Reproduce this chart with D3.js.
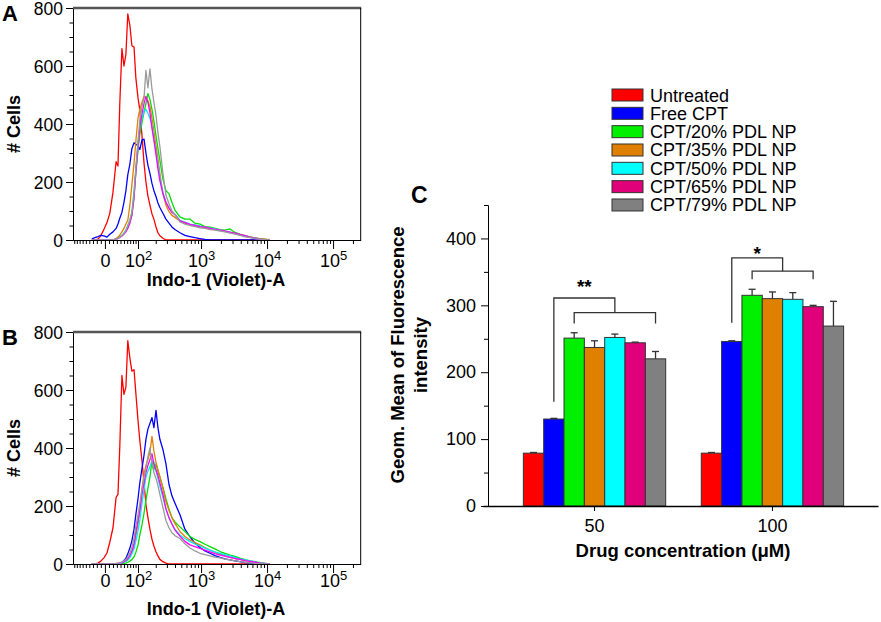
<!DOCTYPE html>
<html>
<head>
<meta charset="utf-8">
<script src="https://cdn.jsdelivr.net/npm/d3@7"></script>
<style>
  body { margin: 0; background: #fff; }
  svg { display: block; }
</style>
</head>
<body>
<div id="figure"></div>
<script>
const FONT = '"Liberation Sans", Arial, Helvetica, sans-serif';

// Treatments (legend order)
const groups = [
  "Untreated",
  "Free CPT",
  "CPT/20% PDL NP",
  "CPT/35% PDL NP",
  "CPT/50% PDL NP",
  "CPT/65% PDL NP",
  "CPT/79% PDL NP",
];
const barColors = ["#ff0000", "#0000ff", "#00f000", "#e08000", "#00ffff", "#e0007a", "#808080"];
const lineColors = ["#ff0000", "#0000ff", "#00e000", "#e08000", "#00e8ff", "#ff00ff", "#9a9a9a"];

// Histogram bin centres, Indo-1 (Violet)-A fluorescence
const histBins = [-33, -25, -17, -10, -2, 5, 12, 20, 28, 33, 38, 44, 50, 56, 62, 69, 76, 84, 91, 100,
  108, 118, 128, 138, 149, 161, 174, 187, 202, 217, 233, 260, 290, 323, 359, 399, 477, 568, 678, 807,
  963, 1146, 1365, 1625, 1935, 2304, 2743, 3266, 3888, 4630, 5513, 6563, 7815, 9305, 11080];

// Panel A: # cells per bin
const histA_untreated = [0, 0, 3, 15, 38, 60, 92, 165, 270, 255, 470, 660, 600, 640, 780, 740, 670, 665, 560, 490,
  448, 360, 265, 200, 152, 120, 90, 72, 45, 25, 15, 6, 0, 0, 0, 0, 0, 0, 0, 0,
  0, 0, 0, 0, 0, 0, 0, 0, 0, 0, 0, 0, 0, 0, 0];
const histA_freeCPT = [4, 8, 12, 16, 14, 10, 20, 28, 40, 55, 75, 95, 130, 170, 225, 262, 315, 335, 330, 325,
  312, 345, 348, 300, 258, 230, 195, 170, 150, 128, 112, 92, 72, 58, 45, 36, 25, 16, 12, 8,
  5, 2, 0, 0, 0, 0, 0, 0, 0, 0, 0, 0, 0, 0, 0];
const histA_np20 = [0, 0, 0, 0, 0, 0, 0, 0, 3, 6, 10, 15, 22, 32, 45, 62, 85, 150, 230, 310,
  365, 405, 440, 470, 505, 485, 450, 410, 360, 315, 275, 210, 170, 160, 130, 103, 80, 72, 72, 58,
  55, 46, 44, 40, 36, 34, 38, 26, 20, 15, 11, 7, 4, 2, 0];
const histA_np35 = [0, 0, 0, 0, 0, 0, 0, 0, 5, 10, 18, 28, 40, 55, 68, 120, 190, 265, 340, 420,
  450, 475, 495, 490, 480, 460, 420, 375, 325, 280, 230, 160, 120, 98, 85, 78, 66, 58, 52, 50,
  46, 42, 40, 37, 33, 30, 26, 22, 18, 14, 10, 7, 5, 3, 1];
const histA_np50 = [0, 0, 0, 0, 0, 0, 0, 0, 3, 6, 10, 16, 24, 35, 50, 70, 95, 170, 240, 335,
  385, 418, 445, 450, 438, 420, 395, 345, 305, 260, 215, 165, 130, 112, 95, 88, 68, 62, 55, 52,
  48, 44, 41, 38, 34, 31, 27, 23, 18, 13, 9, 6, 3, 1, 0];
const histA_np65 = [0, 0, 0, 0, 0, 0, 0, 0, 3, 5, 9, 14, 20, 28, 40, 58, 85, 145, 235, 320,
  390, 435, 470, 495, 475, 440, 385, 345, 295, 245, 205, 160, 130, 110, 95, 88, 66, 60, 54, 50,
  46, 44, 40, 37, 34, 31, 27, 24, 19, 15, 10, 6, 3, 1, 0];
const histA_np79 = [0, 0, 0, 0, 0, 0, 0, 0, 3, 6, 10, 15, 22, 32, 48, 68, 95, 160, 250, 340,
  414, 460, 490, 585, 525, 590, 520, 475, 430, 370, 322, 230, 155, 125, 100, 88, 62, 55, 50, 46,
  42, 40, 36, 34, 31, 28, 24, 20, 16, 11, 8, 5, 3, 1, 0];

// Panel B: # cells per bin
const histB_untreated = [0, 0, 3, 10, 22, 38, 75, 125, 230, 240, 405, 650, 585, 610, 770, 710, 665, 670, 590, 495,
  425, 355, 280, 205, 160, 120, 85, 62, 42, 28, 16, 8, 3, 0, 0, 0, 0, 0, 0, 0,
  0, 0, 0, 0, 0, 0, 0, 0, 0, 0, 0, 0, 0, 0, 0];
const histB_freeCPT = [0, 0, 0, 0, 0, 0, 0, 0, 0, 1, 3, 6, 12, 20, 35, 55, 80, 120, 170, 225,
  280, 330, 375, 430, 465, 485, 505, 470, 530, 470, 430, 395, 345, 275, 235, 210, 170, 120, 94, 72,
  57, 45, 37, 29, 23, 18, 14, 11, 8, 5, 3, 1, 0, 0, 0];
const histB_np20 = [0, 0, 0, 0, 0, 0, 0, 0, 0, 0, 0, 1, 2, 3, 6, 10, 15, 25, 40, 65,
  100, 135, 175, 220, 260, 300, 355, 325, 345, 320, 300, 265, 225, 190, 160, 145, 128, 112, 95, 85,
  77, 68, 60, 52, 43, 37, 31, 26, 20, 15, 11, 8, 5, 2, 0];
const histB_np35 = [0, 0, 0, 0, 0, 0, 0, 0, 0, 1, 2, 4, 7, 10, 14, 25, 40, 60, 95, 140,
  186, 260, 310, 340, 360, 385, 440, 390, 350, 325, 300, 260, 215, 185, 160, 140, 112, 95, 83, 74,
  66, 57, 48, 41, 34, 28, 23, 19, 16, 12, 9, 6, 4, 2, 0];
const histB_np50 = [0, 0, 0, 0, 0, 0, 0, 0, 0, 1, 2, 4, 6, 9, 14, 22, 35, 52, 80, 115,
  152, 210, 255, 300, 320, 335, 358, 350, 320, 295, 268, 230, 190, 160, 138, 120, 100, 88, 77, 69,
  62, 55, 48, 42, 37, 32, 28, 23, 18, 14, 11, 7, 4, 2, 0];
const histB_np65 = [0, 0, 0, 0, 0, 0, 0, 0, 1, 2, 3, 5, 8, 12, 19, 30, 45, 70, 110, 150,
  186, 240, 280, 315, 340, 360, 380, 345, 325, 305, 280, 240, 190, 160, 138, 118, 96, 78, 66, 60,
  54, 48, 42, 36, 31, 27, 23, 19, 16, 12, 9, 6, 3, 1, 0];
const histB_np79 = [0, 0, 0, 0, 0, 0, 0, 0, 2, 3, 4, 7, 11, 16, 24, 38, 58, 88, 130, 170,
  209, 260, 295, 330, 370, 400, 345, 315, 295, 270, 240, 195, 150, 125, 108, 98, 88, 70, 55, 45,
  37, 32, 28, 24, 21, 17, 14, 11, 8, 6, 4, 2, 1, 0, 0];

const histTicks = [0, 100, 1000, 10000, 100000];
const cellTicks = [0, 200, 400, 600, 800];

// Panel C: geometric mean fluorescence (mean and upper error)
const concentrations = ["50", "100"];
const mean50 = [79, 130, 251, 237, 252, 244, 220];
const err50 = [1, 1, 8, 10, 5, 1, 11];
const mean100 = [79, 246, 315, 310, 309, 298, 269];
const err100 = [1, 1, 9, 10, 10, 2, 37];
const meanTicks = [0, 100, 200, 300, 400];

// Significance brackets: Free CPT vs a range of NP groups
const sigLabels = ["**", "*"];
const sigFrom = [2, 2];
const sigTo = [6, 5];
const sigRefFoot = [156, 274];
const sigTop = [311, 371];
const sigLow = [289, 351];
const sigLowFoot = [273, 339];
const sigLabelAt = [333, 383];

const svg = d3
  .select("#figure")
  .append("svg")
  .attr("width", 881)
  .attr("height", 622)
  .attr("font-family", FONT);

svg.append("rect").attr("width", 881).attr("height", 622).attr("fill", "#fff");

// biexponential-like display transform of the cytometer axis
const biex = (v) => Math.asinh(v / 70);

function styleAxis(g, size) {
  g.attr("font-family", FONT).attr("font-size", size || 18);
  g.selectAll(".tick line").attr("stroke", "#000");
  g.selectAll(".domain").attr("stroke", "#000");
}

function drawHistogram(id, top, letter, series, labelPad, titleY) {
  const m = { left: 73, right: 360.7, top: top, bottom: top + 232 };
  const x = d3.scaleLinear().domain([biex(-95), biex(262144)]).range([m.left, m.right]);
  const y = d3.scaleLinear().domain([0, 800]).range([m.bottom, m.top]);
  const g = svg.append("g");

  g.append("clipPath")
    .attr("id", "clip-" + id)
    .append("rect")
    .attr("x", m.left)
    .attr("y", m.top - 2)
    .attr("width", m.right - m.left)
    .attr("height", m.bottom - m.top + 2);

  const line = d3
    .line()
    .x((d, i) => x(biex(histBins[i])))
    .y((d) => y(d));

  g.append("g")
    .attr("clip-path", `url(#clip-${id})`)
    .selectAll("path")
    .data(series)
    .join("path")
    .attr("d", line)
    .attr("fill", "none")
    .attr("stroke", (d, i) => lineColors[i])
    .attr("stroke-width", 1.3)
    .attr("stroke-linejoin", "round");

  // minor x ticks (decade subdivisions)
  const minor = d3.range(-90, 0, 10).concat(d3.range(10, 100, 10));
  [100, 1000, 10000].forEach((dec) => d3.range(2, 10).forEach((k) => minor.push(k * dec)));
  minor.push(200000);
  const xMinor = g.append("g")
    .attr("transform", `translate(0,${m.bottom})`)
    .call(d3.axisBottom(x).tickValues(minor.map(biex)).tickSize(4).tickSizeOuter(0).tickFormat(""));
  xMinor.select(".domain").remove();
  styleAxis(xMinor);

  const xAxis = g.append("g")
    .attr("transform", `translate(0,${m.bottom})`)
    .call(d3.axisBottom(x).tickValues(histTicks.map(biex)).tickSize(9).tickSizeOuter(0).tickPadding(labelPad));
  styleAxis(xAxis);
  xAxis.selectAll(".tick text").each(function (d, i) {
    const t = d3.select(this).text(null);
    const v = histTicks[i];
    if (v === 0) {
      t.append("tspan").text("0");
    } else {
      t.append("tspan").text("10");
      t.append("tspan").attr("dy", "-0.5em").attr("font-size", 13).text(Math.round(Math.log10(v)));
    }
  });

  // y axis
  const yMinor = g.append("g")
    .attr("transform", `translate(${m.left},0)`)
    .call(d3.axisLeft(y).tickValues(d3.range(0, 801, 50)).tickSize(3.5).tickSizeOuter(0).tickFormat(""));
  styleAxis(yMinor);
  const yAxis = g.append("g")
    .attr("transform", `translate(${m.left},0)`)
    .call(d3.axisLeft(y).tickValues(cellTicks).tickSize(7).tickSizeOuter(0).tickPadding(3));
  styleAxis(yAxis, 17.5);
  yAxis.selectAll(".tick text").attr("dy", "0.36em");

  // frame
  g.append("line")
    .attr("x1", m.left).attr("x2", m.right + 0.5)
    .attr("y1", m.top).attr("y2", m.top)
    .attr("stroke", "#555").attr("stroke-width", 2.4);
  g.append("line")
    .attr("x1", m.right).attr("x2", m.right)
    .attr("y1", m.top).attr("y2", m.bottom)
    .attr("stroke", "#000").attr("stroke-width", 1);

  g.append("text")
    .attr("text-anchor", "middle")
    .attr("x", 216)
    .attr("y", titleY)
    .attr("font-size", 18)
    .attr("font-weight", "bold")
    .text("Indo-1 (Violet)-A");

  g.append("text")
    .attr("transform", `translate(20,${(m.top + m.bottom) / 2}) rotate(-90)`)
    .attr("text-anchor", "middle")
    .attr("font-size", 18)
    .attr("font-weight", "bold")
    .text("# Cells");

  g.append("text")
    .attr("x", 2)
    .attr("y", m.top + 13)
    .attr("font-size", 22)
    .attr("font-weight", "bold")
    .text(letter);
}

drawHistogram("a", 8, "A",
  [histA_untreated, histA_freeCPT, histA_np20, histA_np35, histA_np50, histA_np65, histA_np79], 5, 286);
drawHistogram("b", 332, "B",
  [histB_untreated, histB_freeCPT, histB_np20, histB_np35, histB_np50, histB_np65, histB_np79], 1, 615);

// ---------- Panel C: bar chart ----------
const cm = { left: 488, top: 205, bottom: 506, axisStart: 483, axisEnd: 878 };
const yC = d3.scaleLinear().domain([0, 450]).range([cm.bottom, cm.top]);
const x0 = d3.scaleBand()
  .domain(concentrations)
  .range([cm.axisStart, cm.axisEnd])
  .paddingInner(0.2)
  .paddingOuter(0.21)
  .align(0.54);
const x1 = d3.scaleBand().domain(groups).range([0, x0.bandwidth()]);
const means = [mean50, mean100];
const errs = [err50, err100];
const barCenter = (ci, gi) => x0(concentrations[ci]) + x1(groups[gi]) + x1.bandwidth() / 2;

const c = svg.append("g");

const bars = concentrations.flatMap((conc, ci) =>
  groups.map((grp, gi) => ({ conc, grp, ci, gi, mean: means[ci][gi], err: errs[ci][gi] }))
);

c.selectAll("rect.bar")
  .data(bars)
  .join("rect")
  .attr("class", "bar")
  .attr("x", (d) => x0(d.conc) + x1(d.grp))
  .attr("y", (d) => yC(d.mean))
  .attr("width", x1.bandwidth())
  .attr("height", (d) => yC(0) - yC(d.mean))
  .attr("fill", (d) => barColors[d.gi])
  .attr("stroke", "#333")
  .attr("stroke-width", 1);

// error bars (upper only)
const eb = c.selectAll("g.err").data(bars).join("g").attr("class", "err");
eb.append("line")
  .attr("x1", (d) => barCenter(d.ci, d.gi))
  .attr("x2", (d) => barCenter(d.ci, d.gi))
  .attr("y1", (d) => yC(d.mean))
  .attr("y2", (d) => yC(d.mean + d.err))
  .attr("stroke", "#333")
  .attr("stroke-width", 1.3);
eb.append("line")
  .attr("x1", (d) => barCenter(d.ci, d.gi) - 3.5)
  .attr("x2", (d) => barCenter(d.ci, d.gi) + 3.5)
  .attr("y1", (d) => yC(d.mean + d.err))
  .attr("y2", (d) => yC(d.mean + d.err))
  .attr("stroke", "#333")
  .attr("stroke-width", 1.3);

// significance brackets
concentrations.forEach((conc, ci) => {
  const refX = barCenter(ci, 1);
  const fromX = barCenter(ci, sigFrom[ci]);
  const toX = barCenter(ci, sigTo[ci]);
  const midX = (fromX + toX) / 2;
  c.append("path")
    .attr("d", `M${refX},${yC(sigRefFoot[ci])}V${yC(sigTop[ci])}H${midX}V${yC(sigLow[ci])}`)
    .attr("fill", "none").attr("stroke", "#333").attr("stroke-width", 1.3);
  c.append("path")
    .attr("d", `M${fromX},${yC(sigLowFoot[ci])}V${yC(sigLow[ci])}H${toX}V${yC(sigLowFoot[ci])}`)
    .attr("fill", "none").attr("stroke", "#333").attr("stroke-width", 1.3);
  c.append("text")
    .attr("x", (refX + midX) / 2)
    .attr("y", yC(sigLabelAt[ci]) + 10)
    .attr("text-anchor", "middle")
    .attr("font-size", 19)
    .attr("font-weight", "bold")
    .text(sigLabels[ci]);
});

// axes
const yMinorC = c.append("g")
  .attr("transform", `translate(${cm.left},0)`)
  .call(d3.axisLeft(yC).tickValues(d3.range(50, 451, 100)).tickSize(4).tickSizeOuter(0).tickFormat(""));
styleAxis(yMinorC);
const yAxisC = c.append("g")
  .attr("transform", `translate(${cm.left},0)`)
  .call(d3.axisLeft(yC).tickValues(meanTicks).tickSize(7).tickSizeOuter(0).tickPadding(5));
styleAxis(yAxisC);

const xAxisC = c.append("g")
  .attr("transform", `translate(0,${cm.bottom})`)
  .call(d3.axisBottom(x0).tickSize(5).tickSizeOuter(0).tickPadding(8));
styleAxis(xAxisC);
xAxisC.select(".domain").attr("stroke-width", 1.3);

c.append("text")
  .attr("x", 683)
  .attr("y", 557)
  .attr("text-anchor", "middle")
  .attr("font-size", 18.5)
  .attr("font-weight", "bold")
  .text("Drug concentration (\u03bcM)");

c.append("text")
  .attr("transform", "translate(404,355) rotate(-90)")
  .attr("text-anchor", "middle")
  .attr("font-size", 18.5)
  .attr("font-weight", "bold")
  .text("Geom. Mean of Fluorescence");
c.append("text")
  .attr("transform", "translate(427,355) rotate(-90)")
  .attr("text-anchor", "middle")
  .attr("font-size", 18.5)
  .attr("font-weight", "bold")
  .text("intensity");

c.append("text")
  .attr("x", 411)
  .attr("y", 203)
  .attr("font-size", 23)
  .attr("font-weight", "bold")
  .text("C");

// legend
const legend = c.append("g")
  .selectAll("g")
  .data(groups)
  .join("g")
  .attr("transform", (d, i) => `translate(612,${95 + i * 18.33})`);
legend.append("rect")
  .attr("x", 0)
  .attr("y", -6)
  .attr("width", 31)
  .attr("height", 12)
  .attr("fill", (d, i) => barColors[i])
  .attr("stroke", "#333")
  .attr("stroke-width", 1);
legend.append("text")
  .attr("x", 38)
  .attr("y", 6.5)
  .attr("font-size", 18)
  .text((d) => d);
</script>
</body>
</html>
